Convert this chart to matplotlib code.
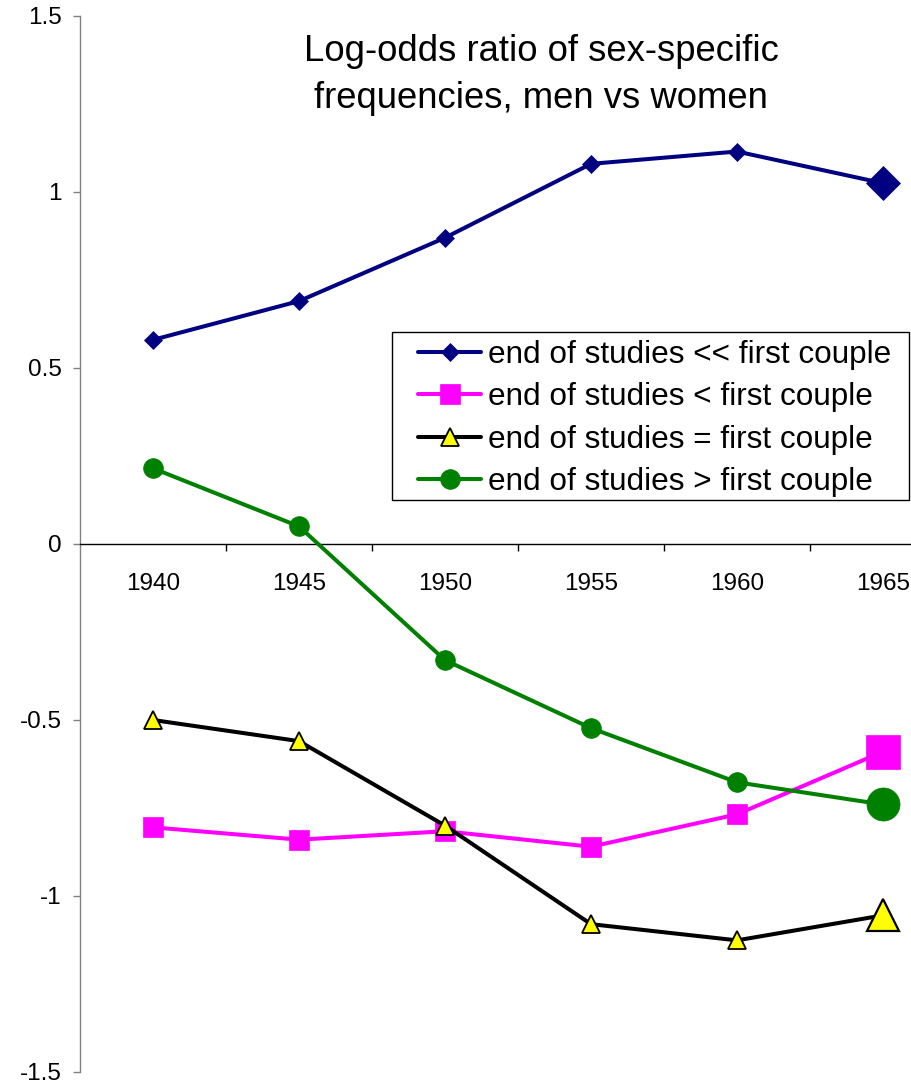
import matplotlib
matplotlib.use("Agg")
import matplotlib.pyplot as plt
from matplotlib.ticker import FixedLocator
from matplotlib.patches import Rectangle

plt.rcParams['font.family'] = ['Liberation Sans', 'DejaVu Sans']

years = ["1940", "1945", "1950", "1955", "1960", "1965"]
s_much_before = [0.58, 0.69, 0.87, 1.08, 1.115, 1.025]
s_before = [-0.805, -0.84, -0.816, -0.86, -0.768, -0.59]
s_equal = [-0.5, -0.56, -0.80, -1.08, -1.126, -1.055]
s_after = [0.215, 0.05, -0.33, -0.523, -0.677, -0.74]
labels = ["end of studies << first couple", "end of studies < first couple",
          "end of studies = first couple", "end of studies > first couple"]
yticks = [-1.5, -1, -0.5, 0, 0.5, 1, 1.5]
ytick_labels = ["-1.5", "-1", "-0.5", "0", "0.5", "1", "1.5"]

W, H = 911, 1083
fig = plt.figure(figsize=(W / 100, H / 100), dpi=100)
ax = fig.add_axes([80 / W, 1 - 1072 / H, 876 / W, 1056 / H])

x = list(range(len(years)))
series = [
    (s_much_before, 'D', '#000080', '#000080', 9.4, 17.0),
    (s_before, 's', '#FF00FF', '#FF00FF', 14.2, 23.8),
    (s_equal, '^', '#000000', '#FFFF00', 13.5, 23.5),
    (s_after, 'o', '#008000', '#008000', 14.2, 23.8),
]
handles = []
for (vals, mk, col, fc, ms, msl), lab in zip(series, labels):
    ec = '#000000' if mk == '^' else col
    mew = 1.3 if mk == '^' else 0.5
    h, = ax.plot(x, vals, color=col, lw=2.9, marker=mk, markersize=ms,
                 markerfacecolor=fc, markeredgecolor=ec, markeredgewidth=mew,
                 markevery=list(range(len(x) - 1)), label=lab, zorder=3,
                 solid_capstyle='round')
    ax.plot([x[-1]], [vals[-1]], linestyle='none', marker=mk, markersize=msl,
            markerfacecolor=fc, markeredgecolor=ec,
            markeredgewidth=1.6 if mk == '^' else 0.5, zorder=4)
    handles.append(h)

ax.set_xlim(-0.5, len(years) - 0.5)
ax.set_ylim(-1.5, 1.5)

for s in ['top', 'right']:
    ax.spines[s].set_visible(False)
ax.spines['left'].set_color('#808080')
ax.spines['left'].set_linewidth(1.0)
ax.spines['bottom'].set_position(('data', 0))
ax.spines['bottom'].set_color('#000000')
ax.spines['bottom'].set_linewidth(1.0)

ax.set_yticks(yticks)
ax.set_yticklabels(ytick_labels, fontsize=17.5)
ax.tick_params(axis='y', direction='out', length=5, width=1, color='#808080', pad=8)

ax.set_xticks(x)
ax.set_xticklabels(years, fontsize=17.5)
ax.tick_params(axis='x', which='major', length=0, pad=21)
ax.xaxis.set_minor_locator(FixedLocator([i + 0.5 for i in range(len(years))]))
ax.tick_params(axis='x', which='minor', direction='out', length=5, width=1, color='#000000')

fig.text(541 / W, 1 - 61 / H, "Log-odds ratio of sex-specific",
         ha='center', va='baseline', fontsize=26.3)
fig.text(541 / W, 1 - 108 / H, "frequencies, men vs women",
         ha='center', va='baseline', fontsize=26.3)

# legend frame
ax.add_patch(Rectangle((391.5 / W, 1 - 500 / H), (909 - 391.5) / W, (500 - 332) / H,
                       transform=fig.transFigure, facecolor='white',
                       edgecolor='#000000', linewidth=1.0, zorder=5, clip_on=False))
leg = ax.legend(handles=handles, loc='upper left', bbox_to_anchor=(418 / W, 1 - 340 / H),
                bbox_transform=fig.transFigure, fontsize=22.7, frameon=False,
                handlelength=2.0, handletextpad=0.22, labelspacing=0.39, borderpad=0.0,
                borderaxespad=0)
leg.set_zorder(6)

fig.savefig("out.png", dpi=100)
